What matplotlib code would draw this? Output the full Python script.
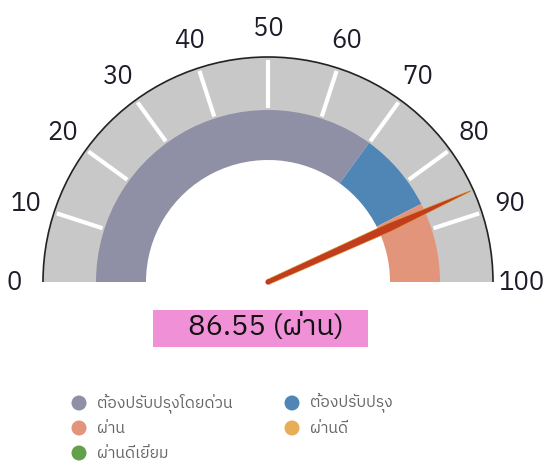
import numpy as np
import matplotlib.pyplot as plt
from matplotlib import font_manager
from matplotlib.ft2font import FT2Font
from matplotlib.patches import Wedge, Polygon, Circle, Arc, Rectangle

# gauge data
band_bounds = [0, 70, 85, 100]
band_colors = ['#8f8fa6', '#4f86b6', '#e3957b']
needle_value = 86.55
value_label = '86.55 (ผ่าน)'
tick_values = list(range(0, 101, 10))

legend_labels = ['ต้องปรับปรุงโดยด่วน', 'ต้องปรับปรุง', 'ผ่าน', 'ผ่านดี', 'ผ่านดีเยี่ยม']
legend_colors = ['#8f8fa6', '#4f86b6', '#e3957b', '#e8ad57', '#63a04c']


def find_thai_family():
    names = []
    for f in font_manager.fontManager.ttflist:
        try:
            if 0x0E1C in FT2Font(f.fname).get_charmap():
                names.append(f.name)
        except Exception:
            pass
    names = sorted(set(names), key=lambda n: ('Sans' not in n, n))
    return names[0] if names else None


thai = find_thai_family()
families = ([thai] if thai else []) + ['DejaVu Sans']
plt.rcParams['font.family'] = families

W, H = 545, 466
cx, cy = 268, H - 282
r_out, r_band, r_in = 225, 172, 122


def ang(v):
    return 180 - v * 1.8


def polar(r, v):
    a = np.radians(ang(v))
    return cx + r * np.cos(a), cy + r * np.sin(a)


fig = plt.figure(figsize=(W / 100, H / 100), dpi=100)
ax = fig.add_axes([0, 0, 1, 1])
ax.set_xlim(0, W)
ax.set_ylim(0, H)
ax.set_aspect('equal')
ax.axis('off')

# gray scale ring
ax.add_patch(Wedge((cx, cy), r_out, 0, 180, width=r_out - r_band + 2,
                   facecolor='#c8c8c8', edgecolor='none'))
ax.add_patch(Arc((cx, cy), 2 * r_out, 2 * r_out, theta1=0, theta2=180,
                 color='#222222', lw=1.2))

# ticks
for v in tick_values[1:-1]:
    x0, y0 = polar(r_band + 2, v)
    x1, y1 = polar(r_out - 3, v)
    ax.plot([x0, x1], [y0, y1], color='white', lw=3, solid_capstyle='butt')

# tick labels
for v in tick_values:
    x, y = polar(254, v)
    ax.text(x, y, str(v), ha='center', va='center', fontsize=18.5, color='#1c1c2a')

# colored band
for lo, hi, c in zip(band_bounds[:-1], band_bounds[1:], band_colors):
    ax.add_patch(Wedge((cx, cy), r_band, ang(hi), ang(lo), width=r_band - r_in,
                       facecolor=c, edgecolor='none'))

# needle
a = np.radians(ang(needle_value))
d = np.array([np.cos(a), np.sin(a)])
n = np.array([-np.sin(a), np.cos(a)])
length = 222
prof = [(0, 2.6), (0.6, 4.2), (1.0, 0.4)]
pts = [np.array([cx, cy]) + t * length * d + w * n for t, w in prof]
pts += [np.array([cx, cy]) + t * length * d - w * n for t, w in prof[::-1]]
ax.add_patch(Polygon(pts, closed=True, facecolor='#c23d1c', edgecolor='#d9a030', lw=0.4))
ax.add_patch(Circle((cx, cy), 2.6, facecolor='#c23d1c', edgecolor='none'))

# value box
ax.add_patch(Rectangle((153, H - 347), 215, 37, facecolor='#f090d6', edgecolor='none'))
ax.text(266, H - 327, value_label, ha='center', va='center', fontsize=21, color='#111111')

# legend
leg_pos = [(79, 403), (292, 403), (79, 428), (292, 428), (79, 453)]
for (lx, ly), lab, c in zip(leg_pos, legend_labels, legend_colors):
    ax.add_patch(Circle((lx, H - ly), 7.5, facecolor=c, edgecolor='none'))
    ax.text(lx + 18, H - ly, lab, ha='left', va='center', fontsize=11.3, color='#666666')

fig.savefig('out.png', dpi=100)
